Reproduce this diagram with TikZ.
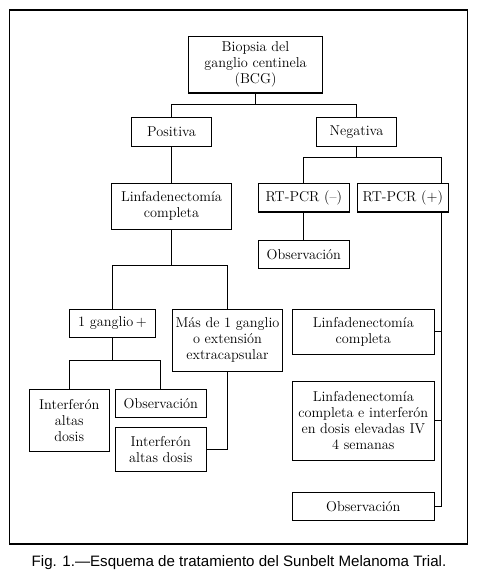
\documentclass[tikz,border=0pt]{standalone}
\usepackage{fontspec}
\newfontfamily\capfont{Liberation Sans}
\usetikzlibrary{calc}
\tikzset{
  box/.style={draw, line width=1.1pt, inner sep=0pt, align=center,
    font=\fontsize{14.3}{16}\selectfont},
  conn/.style={line width=1.1pt},
}
\begin{document}
\begin{tikzpicture}[x=1pt,y=-1pt]
\useasboundingbox (0,0) rectangle (487,587);
\draw[line width=1.1pt] (9.5,10) rectangle (467.5,544);
\node[box, minimum width=134, minimum height=56.5] (bcg) at (255.5,64.75) {Biopsia del\\ganglio centinela\\(BCG)};
\node[box, minimum width=80, minimum height=29] (pos) at (171.5,131.8) {Positiva};
\node[box, minimum width=80, minimum height=29] (neg) at (356.5,131.8) {Negativa};
\node[box, minimum width=120, minimum height=46] (lin1) at (171.5,206.3) {Linfadenectomía\\completa};
\node[box, minimum width=91, minimum height=28.7] (rtm) at (303.8,197.65) {RT-PCR (--)};
\node[box, minimum width=91, minimum height=28.7] (rtp) at (402.8,197.65) {RT-PCR (+)};
\node[box, minimum width=91, minimum height=28] (obs1) at (303.8,254.3) {Observación};
\node[box, minimum width=86, minimum height=28] (g1) at (112.5,323.3) {1 ganglio\,+};
\node[box, minimum width=110, minimum height=62] (mas) at (227.5,340.3) {Más de 1 ganglio\\o extensión\\extracapsular};
\node[box, minimum width=80, minimum height=62] (ifa) at (69.3,420.3) {Interferón\\altas\\dosis};
\node[box, minimum width=91, minimum height=28] (obs2) at (160.8,403.3) {Observación};
\node[box, minimum width=91, minimum height=44] (ifb) at (160.8,449.3) {Interferón\\altas dosis};
\node[box, minimum width=142, minimum height=45] (lin2) at (363.3,331.8) {Linfadenectomía\\completa};
\node[box, minimum width=142, minimum height=79] (lin3) at (363.3,420.8) {Linfadenectomía\\completa e interferón\\en dosis elevadas IV\\4 semanas};
\node[box, minimum width=142, minimum height=28] (obs3) at (363.3,506.3) {Observación};
\node[font=\capfont\fontsize{15.1}{17}\selectfont, inner sep=0pt] (cap) at (239,563) {Fig. 1.—Esquema de tratamiento del Sunbelt Melanoma Trial.};
% connectors
\coordinate (j1) at (255.5,104.5);
\draw[conn] (bcg.south) -- (bcg.south |- j1);
\draw[conn] (pos.north) |- (j1) -| (neg.north);
\draw[conn] (pos.south) -- (lin1.north);
\coordinate (j2) at (356.5,157.3);
\coordinate (rtt) at ($(rtp.north east)+(-7,0)$);
\coordinate (rtb) at ($(rtp.south east)+(-7,0)$);
\draw[conn] (neg.south) -- (j2);
\draw[conn] (rtm.north) |- (j2) -| (rtt);
\draw[conn] (rtm.south) -- (obs1.north);
\draw[conn] (rtb) |- (obs3.east);
\draw[conn] (lin2.east) -- (lin2.east -| rtb);
\draw[conn] (lin3.east) -- (lin3.east -| rtb);
\coordinate (j3) at (171.5,265.3);
\draw[conn] (lin1.south) -- (j3);
\draw[conn] (g1.north) |- (j3) -| (mas.north);
\coordinate (j4) at (112.5,360.3);
\draw[conn] (g1.south) -- (j4);
\draw[conn] (ifa.north) |- (j4) -| (obs2.north);
\draw[conn] (mas.south) |- (ifb.east);
\end{tikzpicture}
\end{document}
